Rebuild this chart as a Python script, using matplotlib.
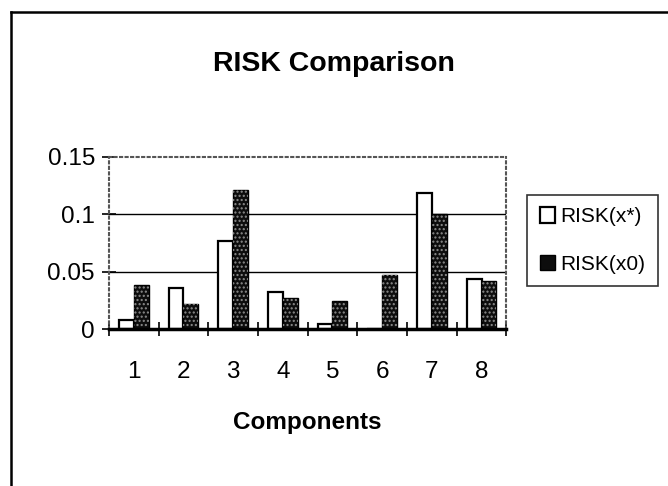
import numpy as np
import matplotlib.pyplot as plt
from matplotlib.lines import Line2D

plt.rcParams['font.family'] = ['Liberation Sans', 'DejaVu Sans']

components = [1, 2, 3, 4, 5, 6, 7, 8]
risk_xstar = [0.008, 0.036, 0.077, 0.032, 0.004, 0.0, 0.119, 0.044]
risk_x0 = [0.038, 0.022, 0.121, 0.027, 0.024, 0.047, 0.100, 0.042]
yticks = [0, 0.05, 0.1, 0.15]
ytick_labels = ["0", "0.05", "0.1", "0.15"]

fig = plt.figure(figsize=(6.68, 4.86), dpi=100)
ax = fig.add_axes([0.163, 0.323, 0.595, 0.354])

x = np.arange(len(components)) + 1
w = 0.3

ax.bar(x - w / 2, risk_xstar, w, color="white", edgecolor="black",
       linewidth=1.6, label="RISK(x*)", zorder=3)
ax.bar(x + w / 2, risk_x0, w, color="#0d0d0d", edgecolor="black",
       linewidth=1.0, label="RISK(x0)", zorder=3)
# stipple overlay on the dark bars
ax.bar(x + w / 2, risk_x0, w, fill=False, edgecolor="#8c8c8c",
       hatch="....", linewidth=0, zorder=4)

ax.set_xlim(0.5, 8.5)
ax.set_ylim(0, 0.15)

for gy in [0.05, 0.1]:
    ax.axhline(gy, color="black", linewidth=1.0, zorder=2)

ax.set_yticks(yticks)
ax.set_yticklabels(ytick_labels, fontsize=17.5)
ax.tick_params(axis="y", direction="inout", length=10, width=1.2, pad=5)

# tick marks between groups, labels at the centres
ax.set_xticks(np.arange(0.5, 9.0, 1.0))
ax.set_xticklabels([])
ax.tick_params(axis="x", which="major", direction="inout", length=10, width=1.2)
ax.set_xticks(x, minor=True)
ax.set_xticklabels([str(c) for c in components], minor=True, fontsize=17.5)
ax.tick_params(axis="x", which="minor", length=0, pad=23)

for side in ["top", "right", "left"]:
    ax.spines[side].set_linestyle(":")
    ax.spines[side].set_color("#555555")
    ax.spines[side].set_linewidth(1.5)
ax.spines["bottom"].set_color("black")
ax.spines["bottom"].set_linewidth(2.5)
ax.spines["bottom"].set_zorder(5)

ax.set_xlabel("Components", fontsize=17.5, fontweight="bold", labelpad=20)
fig.text(0.5, 0.868, "RISK Comparison", ha="center", va="center",
         fontsize=20.5, fontweight="bold")

leg = fig.legend(loc="upper left", bbox_to_anchor=(0.789, 0.599),
                 fontsize=15, frameon=True, fancybox=False, edgecolor="black",
                 handlelength=0.75, handleheight=0.75, handletextpad=0.25,
                 labelspacing=1.35, borderpad=0.6, borderaxespad=0)
leg.get_frame().set_linewidth(1.2)

# outer chart border (left and top visible)
fig.add_artist(Line2D([11 / 668, 11 / 668], [0, 1 - 12 / 486],
                      transform=fig.transFigure, color="black", linewidth=1.8))
fig.add_artist(Line2D([11 / 668, 1], [1 - 12 / 486, 1 - 12 / 486],
                      transform=fig.transFigure, color="black", linewidth=1.8))

fig.savefig("out.png", dpi=100)
